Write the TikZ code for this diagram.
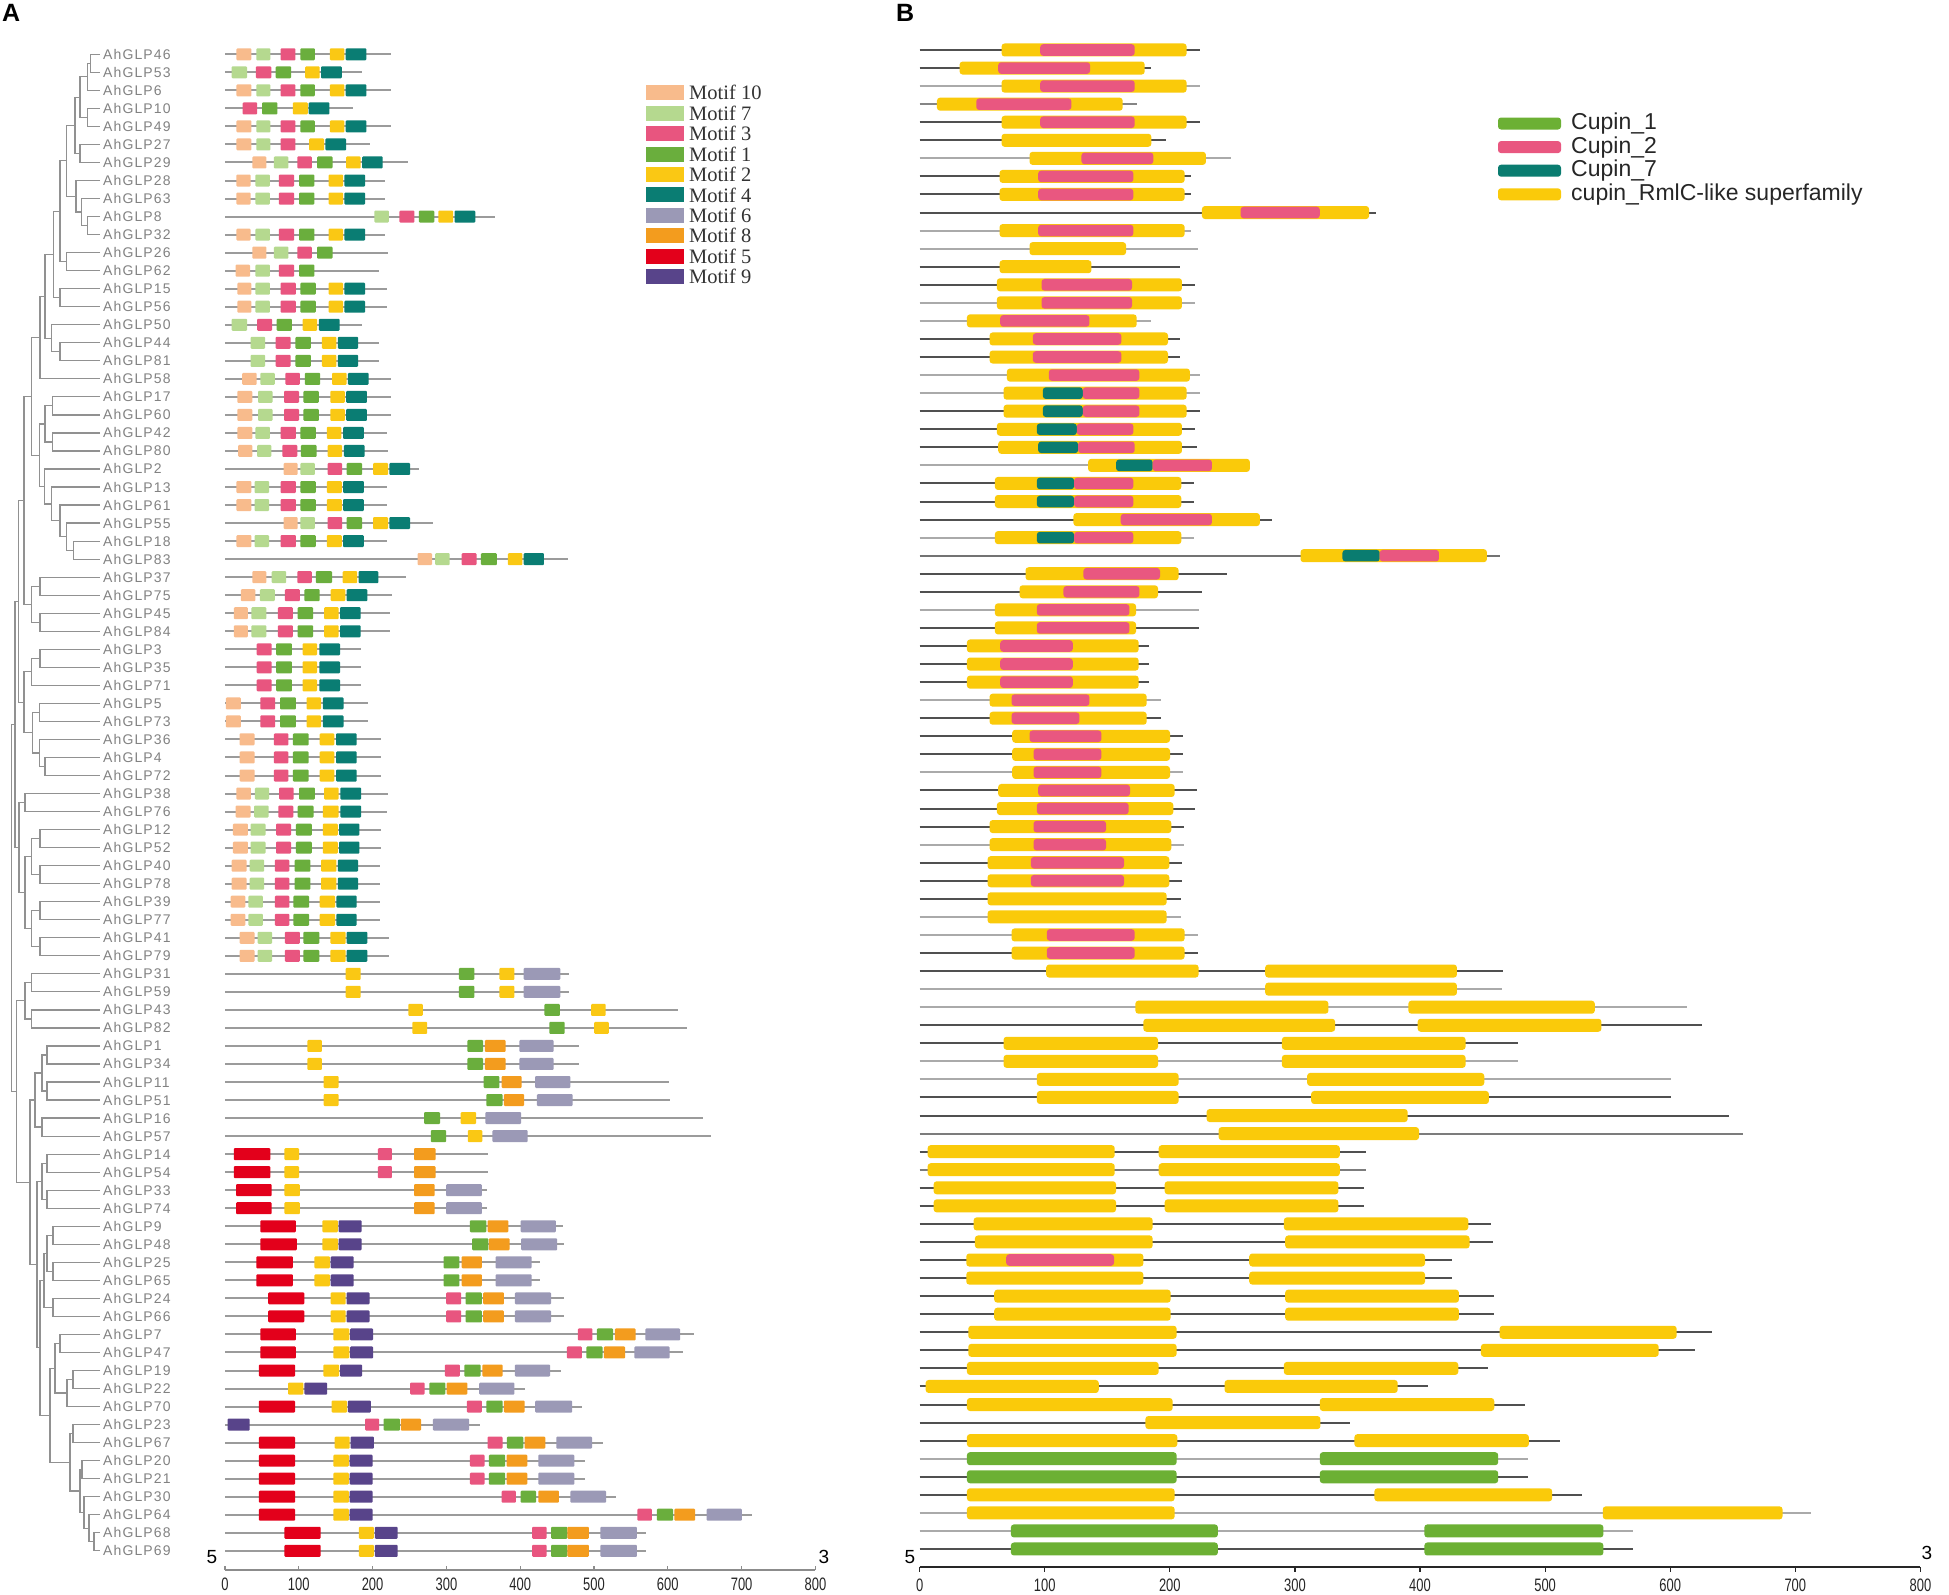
\documentclass[tikz,border=0pt]{standalone}
\usepackage{fontspec}
\setmainfont{Liberation Sans}
\newfontfamily\genefont[LetterSpace=8]{Liberation Sans}
\newfontfamily\legfont{Liberation Serif}
\newfontfamily\axfont[FakeStretch=0.72]{Liberation Sans}
\definecolor{mP}{RGB}{248,187,140}
\definecolor{mL}{RGB}{181,217,143}
\definecolor{mK}{RGB}{232,85,127}
\definecolor{mG}{RGB}{106,174,61}
\definecolor{mY}{RGB}{250,200,20}
\definecolor{mT}{RGB}{10,125,115}
\definecolor{mV}{RGB}{155,153,182}
\definecolor{mO}{RGB}{243,156,30}
\definecolor{mR}{RGB}{227,0,27}
\definecolor{mU}{RGB}{88,68,138}
\definecolor{dY}{RGB}{250,202,10}
\definecolor{dP}{RGB}{233,87,128}
\definecolor{dT}{RGB}{10,124,112}
\definecolor{dG}{RGB}{108,176,52}
\definecolor{ldk}{RGB}{80,80,80}
\definecolor{llt}{RGB}{170,170,170}
\definecolor{treec}{RGB}{145,145,145}
\definecolor{genetxt}{RGB}{130,130,130}
\definecolor{glineA}{RGB}{155,155,155}
\newcommand\YA[1]{54.3+(#1-1)*18.03}
\newcommand\YB[1]{50+(#1-1)*18.06}
\newcommand\rowA[3]{%
  \draw[geneA] (225,{\YA{#1}}) -- ({225+(#2-22)*0.4406},{\YA{#1}});
  \foreach \c/\a/\b in {#3}{\fill[\c,motif] ({225+(\a-22)*0.4406},{\YA{#1}-6}) rectangle ({225+(\b-22)*0.4406},{\YA{#1}+6});}}
\newcommand\rowB[4]{%
  \draw[geneB,#3] (919.6,{\YB{#1}}) -- ({905+#2*0.6658},{\YB{#1}});
  \foreach \c/\a/\b in {#4}{\fill[\c,dom] ({905+\a*0.6658},{\YB{#1}-6.5}) rectangle ({905+\b*0.6658},{\YB{#1}+6.5});}}
\newcommand\inB[2]{\foreach \c/\a/\b in {#2}{\fill[\c,dom] ({905+\a*0.6658},{\YB{#1}-5.8}) rectangle ({905+\b*0.6658},{\YB{#1}+5.8});}}
\newcommand\clade[5]{\draw[tree] (#3,{\YA{#2}}) -- (#1,{\YA{#2}}) -- (#1,{\YA{#4}}) -- (#5,{\YA{#4}});}
\begin{document}
\begin{tikzpicture}[x=1pt,y=-1pt,
  geneA/.style={draw=glineA,line width=2pt},
  geneB/.style={line width=2pt},
  motif/.style={rounded corners=1pt},
  dom/.style={rounded corners=3pt},
  tree/.style={draw=treec,line width=1.2pt},
  gene/.style={font=\genefont\fontsize{14}{16}\selectfont,text=genetxt,inner sep=0pt,anchor=west},
  axlab/.style={font=\axfont\fontsize{18}{20}\selectfont,inner sep=0pt,text=black!85},
  endlab/.style={font=\fontsize{19}{20}\selectfont,inner sep=0pt},
  legA/.style={font=\legfont\fontsize{20.5}{21}\selectfont,inner sep=0pt,anchor=west,text=black!80},
  legB/.style={font=\fontsize{23}{24}\selectfont,inner sep=0pt,anchor=west,text=black!85},
  panel/.style={font=\bfseries\fontsize{25}{26}\selectfont,inner sep=0pt,anchor=north west}]
\useasboundingbox (0,0) rectangle (1949,1595);
\fill[white] (0,0) rectangle (1949,1595);
\node[panel] (pA) at (2,4) {A};
\node[panel] (pB) at (896,4) {B};
% ---------- tree ----------
\clade{90.7}{1}{100}{2}{100}
\clade{87.3}{1.5}{90.7}{3}{100}
\clade{87.3}{4}{100}{5}{100}
\clade{80}{2.25}{87.3}{4.5}{87.3}
\clade{80}{6}{100}{7}{100}
\clade{75}{3.375}{80}{6.5}{80}
\clade{87.3}{10}{100}{11}{100}
\clade{81.7}{9}{100}{10.5}{87.3}
\clade{76}{8}{100}{9.75}{81.7}
\clade{66.7}{4.9375}{75}{8.875}{76}
\clade{66.7}{12}{100}{13}{100}
\clade{60}{6.906}{66.7}{12.5}{66.7}
\clade{60}{14}{100}{15}{100}
\clade{53.3}{9.703}{60}{14.5}{60}
\clade{60}{17}{100}{18}{100}
\clade{51.7}{16}{100}{17.5}{60}
\clade{45}{12.102}{53.3}{16.75}{51.7}
\clade{40}{14.426}{45}{19}{100}
\clade{52.7}{20}{100}{21}{100}
\clade{52.7}{22}{100}{23}{100}
\clade{45}{20.5}{52.7}{22.5}{52.7}
\clade{73.3}{28}{100}{29}{100}
\clade{66.7}{27}{100}{28.5}{73.3}
\clade{60}{26}{100}{27.75}{66.7}
\clade{51.7}{25}{100}{26.875}{60}
\clade{44.3}{24}{100}{25.9375}{51.7}
\clade{39.3}{21.5}{45}{24.969}{44.3}
\clade{31.7}{16.713}{40}{23.234}{39.3}
\clade{40}{30}{100}{31}{100}
\clade{40}{32}{100}{33}{100}
\clade{31.7}{30.5}{40}{32.5}{40}
\clade{24}{19.974}{31.7}{31.5}{31.7}
\clade{40}{34}{100}{35}{100}
\clade{31.7}{34.5}{40}{36}{100}
\clade{39.3}{37}{100}{38}{100}
\clade{45}{40}{100}{41}{100}
\clade{39.3}{39}{100}{40.5}{45}
\clade{32.3}{37.5}{39.3}{39.75}{39.3}
\clade{24}{35.25}{31.7}{38.625}{32.3}
\clade{18.3}{25.737}{24}{36.9375}{24}
\clade{25}{42}{100}{43}{100}
\clade{40}{44}{100}{45}{100}
\clade{40}{46}{100}{47}{100}
\clade{31.7}{44.5}{40}{46.5}{40}
\clade{40}{48}{100}{49}{100}
\clade{40}{50}{100}{51}{100}
\clade{31.7}{48.5}{40}{50.5}{40}
\clade{25}{45.5}{31.7}{49.5}{31.7}
\clade{19}{42.5}{25}{47.5}{25}
\clade{15}{31.337}{18.3}{45}{19}
\clade{31.7}{52}{100}{53}{100}
\clade{31.7}{54}{100}{55}{100}
\clade{25}{52.5}{31.7}{54.5}{31.7}
\clade{47}{56}{100}{57}{100}
\clade{47}{58}{100}{59}{100}
\clade{42}{56.5}{47}{58.5}{47}
\clade{42}{60}{100}{61}{100}
\clade{35}{57.5}{42}{60.5}{42}
\clade{47}{62}{100}{63}{100}
\clade{47}{64}{100}{65}{100}
\clade{42}{62.5}{47}{64.5}{47}
\clade{53}{66}{100}{67}{100}
\clade{53}{68}{100}{69}{100}
\clade{47}{66.5}{53}{68.5}{53}
\clade{53}{70}{100}{71}{100}
\clade{44}{67.5}{47}{70.5}{53}
\clade{60}{72}{100}{73}{100}
\clade{73}{74}{100}{75}{100}
\clade{67}{74.5}{73}{76}{100}
\clade{55}{72.5}{60}{75.25}{67}
\clade{73}{77}{100}{78}{100}
\clade{82}{79}{100}{80}{100}
\clade{94}{83}{100}{84}{100}
\clade{89}{82}{100}{83.5}{94}
\clade{84}{81}{100}{82.75}{89}
\clade{80}{79.5}{82}{81.875}{84}
\clade{70}{77.5}{73}{80.6875}{80}
\clade{50}{73.875}{55}{79.094}{70}
\clade{40}{69}{44}{76.484}{50}
\clade{37}{63.5}{42}{72.742}{40}
\clade{30}{59}{35}{68.121}{37}
\clade{16.5}{53.5}{25}{63.56}{30}
\clade{11.7}{38.169}{15}{58.53}{16.5}
% ---------- gene names ----------
\foreach \n [count=\i] in {46,53,6,10,49,27,29,28,63,8,32,26,62,15,56,50,44,81,58,17,60,42,80,2,13,61,55,18,83,37,75,45,84,3,35,71,5,73,36,4,72,38,76,12,52,40,78,39,77,41,79,31,59,43,82,1,34,11,51,16,57,14,54,33,74,9,48,25,65,24,66,7,47,19,22,70,23,67,20,21,30,64,68,69}
  \node[gene] (g\n) at (103,{\YA{\i}}) {AhGLP\n};
% ---------- panel A motifs ----------
\rowA{1}{398}{mP/48/82,mL/93/125,mK/148/182,mG/193/226,mY/260/293,mT/296/343}
\rowA{2}{333}{mL/37/72,mK/92/127,mG/137/172,mY/204/237,mT/240/287}
\rowA{3}{398}{mP/48/82,mL/93/125,mK/148/182,mG/193/226,mY/260/293,mT/296/343}
\rowA{4}{312}{mK/62/95,mG/106/141,mY/176/210,mT/212/259}
\rowA{5}{398}{mP/48/82,mL/93/125,mK/148/182,mG/193/226,mY/260/293,mT/296/343}
\rowA{6}{350}{mP/48/82,mL/93/125,mK/148/182,mY/213/247,mT/250/297}
\rowA{7}{437}{mP/84/116,mL/133/166,mK/186/219,mG/231/266,mY/297/330,mT/333/380}
\rowA{8}{386}{mP/48/80,mL/91/124,mK/144/179,mG/190/225,mY/257/290,mT/293/340}
\rowA{9}{386}{mP/48/80,mL/91/124,mK/144/179,mG/190/225,mY/257/290,mT/293/340}
\rowA{10}{635}{mL/361/394,mK/418/452,mG/462/497,mY/506/540,mT/543/590}
\rowA{11}{386}{mP/48/80,mL/91/124,mK/144/179,mG/190/225,mY/257/290,mT/293/340}
\rowA{12}{393}{mP/84/116,mL/133/166,mK/186/219,mG/231/266}
\rowA{13}{372}{mP/46/79,mL/91/124,mK/144/179,mG/190/225}
\rowA{14}{390}{mP/50/82,mL/91/124,mK/148/183,mG/193/228,mY/257/290,mT/293/340}
\rowA{15}{390}{mP/50/82,mL/91/124,mK/148/183,mG/193/228,mY/257/290,mT/293/340}
\rowA{16}{333}{mL/37/72,mK/95/129,mG/139/174,mY/198/231,mT/235/282}
\rowA{17}{372}{mL/80/113,mK/137/171,mG/182/217,mY/242/275,mT/278/324}
\rowA{18}{372}{mL/80/113,mK/137/171,mG/182/217,mY/242/275,mT/278/324}
\rowA{19}{398}{mP/61/94,mL/102/135,mK/159/192,mG/203/238,mY/265/298,mT/301/348}
\rowA{20}{398}{mP/50/84,mL/97/130,mK/156/190,mG/200/235,mY/261/294,mT/297/344}
\rowA{21}{398}{mP/50/84,mL/97/130,mK/156/190,mG/200/235,mY/261/294,mT/297/344}
\rowA{22}{390}{mP/50/84,mL/91/124,mK/148/183,mG/193/228,mY/253/286,mT/290/337}
\rowA{23}{393}{mP/52/84,mL/95/127,mK/152/186,mG/194/230,mY/255/288,mT/292/339}
\rowA{24}{463}{mP/155/187,mL/193/226,mK/255/288,mG/298/333,mY/358/392,mT/395/442}
\rowA{25}{390}{mP/48/82,mL/89/122,mK/148/183,mG/193/228,mY/253/287,mT/290/337}
\rowA{26}{390}{mP/48/82,mL/89/122,mK/148/183,mG/193/228,mY/253/287,mT/290/337}
\rowA{27}{494}{mP/155/187,mL/193/226,mK/255/288,mG/298/333,mY/358/392,mT/395/442}
\rowA{28}{390}{mP/48/82,mL/89/122,mK/148/183,mG/193/228,mY/253/287,mT/290/337}
\rowA{29}{800}{mP/459/492,mL/499/532,mK/559/593,mG/603/639,mY/664/697,mT/700/746}
\rowA{30}{433}{mP/84/116,mL/128/161,mK/186/219,mG/228/265,mY/289/322,mT/325/370}
\rowA{31}{400}{mP/58/91,mL/101/135,mK/158/192,mG/202/237,mY/262/295,mT/298/345}
\rowA{32}{397}{mP/42/74,mL/82/116,mK/142/176,mG/187/222,mY/247/280,mT/283/330}
\rowA{33}{397}{mP/42/74,mL/82/116,mK/142/176,mG/187/222,mY/247/280,mT/283/330}
\rowA{34}{330}{mK/94/128,mG/138/174,mY/198/231,mT/236/283}
\rowA{35}{330}{mK/94/128,mG/138/174,mY/198/231,mT/236/283}
\rowA{36}{330}{mK/94/128,mG/138/174,mY/198/231,mT/236/283}
\rowA{37}{347}{mP/24/58,mK/102/136,mG/147/183,mY/207/240,mT/244/291}
\rowA{38}{347}{mP/24/58,mK/102/136,mG/147/183,mY/207/240,mT/244/291}
\rowA{39}{376}{mP/55/89,mK/133/166,mG/176/212,mY/237/270,mT/274/321}
\rowA{40}{376}{mP/55/89,mK/133/166,mG/176/212,mY/237/270,mT/274/321}
\rowA{41}{376}{mP/55/89,mK/133/166,mG/176/212,mY/237/270,mT/274/321}
\rowA{42}{393}{mP/48/81,mL/90/122,mK/145/178,mG/190/226,mY/247/280,mT/284/331}
\rowA{43}{390}{mP/46/80,mL/88/121,mK/143/177,mG/187/223,mY/244/280,mT/284/331}
\rowA{44}{376}{mP/40/74,mL/80/114,mK/138/172,mG/183/219,mY/244/278,mT/281/327}
\rowA{45}{376}{mP/40/74,mL/80/114,mK/138/172,mG/183/219,mY/244/278,mT/281/327}
\rowA{46}{373}{mP/37/71,mL/78/111,mK/135/168,mG/180/216,mY/240/275,mT/278/324}
\rowA{47}{373}{mP/37/71,mL/78/111,mK/135/168,mG/180/216,mY/240/275,mT/278/324}
\rowA{48}{373}{mP/35/68,mL/75/108,mK/135/168,mG/177/213,mY/237/272,mT/275/321}
\rowA{49}{373}{mP/35/68,mL/75/108,mK/135/168,mG/177/213,mY/237/272,mT/275/321}
\rowA{50}{394}{mP/55/89,mL/96/129,mK/158/192,mG/200/236,mY/261/296,mT/298/345}
\rowA{51}{394}{mP/55/89,mL/96/129,mK/158/192,mG/200/236,mY/261/296,mT/298/345}
\rowA{52}{802}{mY/296/330,mG/553/588,mY/645/679,mV/700/783}
\rowA{53}{802}{mY/296/330,mG/553/588,mY/645/679,mV/700/783}
\rowA{54}{1051}{mY/438/471,mG/747/782,mY/853/886}
\rowA{55}{1071}{mY/447/481,mG/758/793,mY/860/893}
\rowA{56}{825}{mY/209/242,mG/572/608,mO/612/659,mV/690/768}
\rowA{57}{825}{mY/209/242,mG/572/608,mO/612/659,mV/690/768}
\rowA{58}{1029}{mY/246/280,mG/609/645,mO/650/695,mV/726/806}
\rowA{59}{1031}{mY/246/280,mG/615/652,mO/655/701,mV/730/811}
\rowA{60}{1107}{mG/474/510,mY/557/592,mV/613/694}
\rowA{61}{1125}{mG/489/524,mY/573/606,mV/629/709}
\rowA{62}{620}{mR/42/125,mY/157/190,mK/369/401,mO/451/500}
\rowA{63}{620}{mR/42/125,mY/157/190,mK/369/401,mO/451/500}
\rowA{64}{617}{mR/47/128,mY/157/192,mO/451/498,mV/524/605}
\rowA{65}{617}{mR/47/128,mY/157/192,mO/451/498,mV/524/605}
\rowA{66}{790}{mR/102/183,mY/243/278,mU/280/332,mG/578/615,mO/618/665,mV/693/773}
\rowA{67}{792}{mR/102/185,mY/243/278,mU/280/332,mG/583/620,mO/621/668,mV/694/776}
\rowA{68}{736}{mR/93/176,mY/225/260,mU/262/314,mG/518/554,mO/559/605,mV/636/718}
\rowA{69}{736}{mR/93/176,mY/225/260,mU/262/314,mG/518/554,mO/559/605,mV/636/718}
\rowA{70}{792}{mR/120/202,mY/262/296,mU/298/350,mK/524/558,mG/568/605,mO/608/655,mV/680/762}
\rowA{71}{792}{mR/120/202,mY/262/296,mU/298/350,mK/524/558,mG/568/605,mO/608/655,mV/680/762}
\rowA{72}{1087}{mR/102/183,mY/268/304,mU/306/358,mK/823/856,mG/866/903,mO/907/954,mV/976/1055}
\rowA{73}{1061}{mR/102/183,mY/268/304,mU/306/358,mK/798/832,mG/842/879,mO/882/930,mV/951/1031}
\rowA{74}{784}{mR/99/181,mY/245/281,mU/283/333,mK/521/555,mG/565/602,mO/606/652,mV/680/760}
\rowA{75}{703}{mY/165/200,mU/202/254,mK/442/475,mG/486/522,mO/525/572,mV/599/679}
\rowA{76}{832}{mR/99/181,mY/264/299,mU/301/353,mK/571/605,mG/615/652,mO/655/702,mV/726/810}
\rowA{77}{600}{mU/28/78,mK/340/372,mG/382/419,mO/421/467,mV/494/576}
\rowA{78}{879}{mR/99/181,mY/271/305,mU/307/360,mK/618/652,mG/662/699,mO/702/749,mV/774/855}
\rowA{79}{838}{mR/99/181,mY/268/303,mU/305/357,mK/578/611,mG/621/658,mO/661/708,mV/733/815}
\rowA{80}{838}{mR/99/181,mY/268/303,mU/305/357,mK/578/611,mG/621/658,mO/661/708,mV/733/815}
\rowA{81}{909}{mR/99/181,mY/268/303,mU/305/357,mK/650/682,mG/693/728,mO/733/780,mV/806/887}
\rowA{82}{1218}{mR/99/181,mY/268/303,mU/305/357,mK/958/991,mG/1002/1039,mO/1042/1089,mV/1115/1195}
\rowA{83}{977}{mR/157/239,mY/326/360,mU/362/414,mK/719/752,mG/762/799,mO/799/848,mV/874/957}
\rowA{84}{977}{mR/157/239,mY/326/360,mU/362/414,mK/719/752,mG/762/799,mO/799/848,mV/874/957}
% ---------- legend A ----------
\foreach \c/\t [count=\k from 0] in {mP/Motif 10,mL/Motif 7,mK/Motif 3,mG/Motif 1,mY/Motif 2,mT/Motif 4,mV/Motif 6,mO/Motif 8,mR/Motif 5,mU/Motif 9}{
  \fill[\c] (646,{92.7+\k*20.45-7.5}) rectangle (684,{92.7+\k*20.45+7.5});
  \node[legA] (la\k) at (689,{92.7+\k*20.45}) {\t};}
% ---------- panel B domains ----------
\rowB{1}{443}{ldk}{dY/145/423}\inB{1}{dP/203/345}
\rowB{2}{370}{ldk}{dY/82/360}\inB{2}{dP/140/278}
\rowB{3}{443}{llt}{dY/145/423}\inB{3}{dP/203/345}
\rowB{4}{348}{ldk!70}{dY/48/327}\inB{4}{dP/107/250}
\rowB{5}{443}{ldk}{dY/145/423}\inB{5}{dP/203/345}
\rowB{6}{392}{ldk}{dY/145/370}
\rowB{7}{490}{llt}{dY/187/452}\inB{7}{dP/265/373}
\rowB{8}{430}{ldk}{dY/142/420}\inB{8}{dP/200/343}
\rowB{9}{430}{ldk}{dY/142/420}\inB{9}{dP/200/343}
\rowB{10}{708}{ldk}{dY/446/697}\inB{10}{dP/504/623}
\rowB{11}{430}{llt}{dY/142/420}\inB{11}{dP/200/343}
\rowB{12}{440}{llt}{dY/187/332}
\rowB{13}{413}{ldk}{dY/142/280}
\rowB{14}{435}{ldk}{dY/138/416}\inB{14}{dP/205/341}
\rowB{15}{435}{llt}{dY/138/416}\inB{15}{dP/205/341}
\rowB{16}{370}{llt}{dY/93/348}\inB{16}{dP/143/277}
\rowB{17}{413}{ldk}{dY/127/395}\inB{17}{dP/192/325}
\rowB{18}{413}{ldk}{dY/127/395}\inB{18}{dP/192/325}
\rowB{19}{443}{llt}{dY/153/428}\inB{19}{dP/216/352}
\rowB{20}{443}{llt}{dY/148/423}\inB{20}{dT/207/267,dP/267/352}
\rowB{21}{443}{ldk}{dY/148/423}\inB{21}{dT/207/267,dP/267/352}
\rowB{22}{436}{ldk}{dY/138/416}\inB{22}{dT/198/258,dP/258/343}
\rowB{23}{438}{ldk}{dY/140/416}\inB{23}{dT/200/260,dP/260/345}
\rowB{24}{518}{llt}{dY/275/518}\inB{24}{dT/317/372,dP/372/461}
\rowB{25}{434}{ldk}{dY/135/415}\inB{25}{dT/198/254,dP/254/343}
\rowB{26}{434}{ldk}{dY/135/415}\inB{26}{dT/198/254,dP/254/343}
\rowB{27}{551}{ldk}{dY/253/533}\inB{27}{dP/324/461}
\rowB{28}{434}{llt}{dY/135/415}\inB{28}{dT/198/254,dP/254/343}
\rowB{29}{893}{ldk!80}{dY/594/874}\inB{29}{dT/657/713,dP/713/802}
\rowB{30}{483}{ldk}{dY/181/411}\inB{30}{dP/268/383}
\rowB{31}{446}{ldk}{dY/172/380}\inB{31}{dP/238/352}
\rowB{32}{442}{llt}{dY/135/347}\inB{32}{dP/198/337}
\rowB{33}{442}{ldk}{dY/135/347}\inB{33}{dP/198/337}
\rowB{34}{367}{ldk}{dY/93/351}\inB{34}{dP/143/252}
\rowB{35}{367}{ldk}{dY/93/351}\inB{35}{dP/143/252}
\rowB{36}{367}{ldk}{dY/93/351}\inB{36}{dP/143/252}
\rowB{37}{385}{llt}{dY/127/363}\inB{37}{dP/160/277}
\rowB{38}{385}{ldk}{dY/127/363}\inB{38}{dP/160/262}
\rowB{39}{418}{ldk}{dY/161/398}\inB{39}{dP/187/295}
\rowB{40}{418}{ldk}{dY/161/398}\inB{40}{dP/193/295}
\rowB{41}{418}{llt}{dY/161/398}\inB{41}{dP/193/295}
\rowB{42}{438}{ldk}{dY/140/405}\inB{42}{dP/200/338}
\rowB{43}{436}{ldk}{dY/138/403}\inB{43}{dP/198/336}
\rowB{44}{419}{ldk}{dY/127/400}\inB{44}{dP/193/302}
\rowB{45}{419}{llt}{dY/127/400}\inB{45}{dP/193/302}
\rowB{46}{416}{ldk}{dY/124/397}\inB{46}{dP/189/329}
\rowB{47}{416}{ldk}{dY/124/397}\inB{47}{dP/189/329}
\rowB{48}{414}{ldk}{dY/124/393}
\rowB{49}{414}{llt}{dY/124/393}
\rowB{50}{440}{llt}{dY/160/420}\inB{50}{dP/213/345}
\rowB{51}{440}{ldk}{dY/160/420}\inB{51}{dP/213/345}
\rowB{52}{898}{ldk}{dY/212/441,dY/541/829}
\rowB{53}{897}{llt}{dY/541/829}
\rowB{54}{1174}{llt}{dY/346/636,dY/756/1036}
\rowB{55}{1197}{ldk}{dY/358/646,dY/770/1046}
\rowB{56}{921}{ldk}{dY/148/380,dY/566/842}
\rowB{57}{921}{llt}{dY/148/380,dY/566/842}
\rowB{58}{1150}{llt}{dY/198/411,dY/604/870}
\rowB{59}{1150}{ldk}{dY/198/411,dY/610/877}
\rowB{60}{1238}{ldk}{dY/453/755}
\rowB{61}{1258}{ldk!75}{dY/471/772}
\rowB{62}{692}{ldk}{dY/34/315,dY/381/653}
\rowB{63}{692}{ldk!75}{dY/34/315,dY/381/653}
\rowB{64}{690}{ldk}{dY/43/317,dY/390/651}
\rowB{65}{690}{ldk}{dY/43/317,dY/390/651}
\rowB{66}{880}{ldk}{dY/103/372,dY/569/846}
\rowB{67}{883}{ldk}{dY/105/372,dY/571/848}
\rowB{68}{822}{ldk}{dY/92/358,dY/517/781}\inB{68}{dP/152/314}
\rowB{69}{822}{ldk}{dY/92/358,dY/517/781}
\rowB{70}{885}{ldk}{dY/134/399,dY/571/832}
\rowB{71}{885}{ldk}{dY/134/399,dY/571/832}
\rowB{72}{1212}{ldk}{dY/95/408,dY/893/1159}
\rowB{73}{1186}{ldk}{dY/95/408,dY/865/1132}
\rowB{74}{876}{ldk}{dY/93/381,dY/569/831}
\rowB{75}{785}{ldk}{dY/31/291,dY/480/740}
\rowB{76}{931}{ldk}{dY/93/402,dY/623/885}
\rowB{77}{668}{ldk}{dY/361/624}
\rowB{78}{983}{ldk}{dY/93/409,dY/675/937}
\rowB{79}{935}{llt}{dG/93/408,dG/623/891}
\rowB{80}{935}{ldk}{dG/93/408,dG/623/891}
\rowB{81}{1017}{ldk}{dY/93/405,dY/705/972}
\rowB{82}{1360}{llt}{dY/93/405,dY/1048/1318}
\rowB{83}{1093}{llt}{dG/159/470,dG/780/1049}
\rowB{84}{1093}{ldk}{dG/159/470,dG/780/1049}
% ---------- legend B ----------
\foreach \c/\t [count=\k from 0] in {dG/Cupin\_1,dP/Cupin\_2,dT/Cupin\_7,dY/cupin\_RmlC-like superfamily}{
  \fill[\c,rounded corners=3pt] (1498,{123.5+\k*23.6-6}) rectangle (1561,{123.5+\k*23.6+6});
  \node[legB] (lb\k) at (1571,{123.5+\k*23.6}) {\t};}
% ---------- axes ----------
\draw[draw=black!45,line width=1.3pt] (225,1570) -- (815.4,1570);
\foreach \k/\t in {0/0,1/100,2/200,3/300,4/400,5/500,6/600,7/700,8/800}{
  \draw[draw=black!45,line width=1.3pt] ({225+\k*73.8},1570) -- ({225+\k*73.8},1565.5);
  \node[axlab] (ta\k) at ({225+\k*73.8},1584) {\t};}
\node[endlab] (a5) at (212,1557) {5};
\node[endlab] (a3) at (824,1557) {3};
\draw[draw=black!85,line width=1.3pt] (919.6,1567) -- (1920.4,1567);
\foreach \k/\t in {0/0,1/100,2/200,3/300,4/400,5/500,6/600,7/700,8/800}{
  \draw[draw=black!85,line width=1.2pt] ({919.6+\k*125.1},1567) -- ({919.6+\k*125.1},1571.5);
  \node[axlab] (tb\k) at ({919.6+\k*125.1},1585) {\t};}
\node[endlab] (b5) at (910,1557) {5};
\node[endlab] (b3) at (1927,1553) {3};
\end{tikzpicture}
\end{document}
